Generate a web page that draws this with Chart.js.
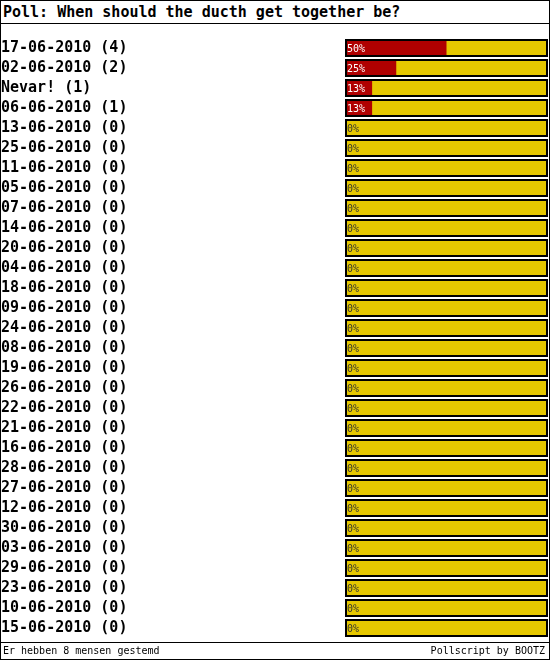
<!DOCTYPE html>
<html>
<head>
<meta charset="utf-8">
<script src="https://cdn.jsdelivr.net/npm/chart.js@4"></script>
<style>
  body { margin: 0; background: #fff; }
  #kader { position: relative; width: 550px; height: 660px; box-sizing: border-box; border: 1px solid #000; font-family: "DejaVu Sans Mono", monospace; }
  #titel { position: absolute; left: 2px; top: 2px; font-size: 15px; font-weight: bold; line-height: 18px; }
  #lijnBoven { position: absolute; left: 0; right: 0; top: 22px; border-top: 1px solid #000; }
  #grafiekVak { position: absolute; left: 0; top: 28px; width: 548px; height: 618px; }
  #lijnOnder { position: absolute; left: 0; right: 0; top: 641px; border-top: 1px solid #000; }
  .voet { position: absolute; top: 643px; font-size: 10px; line-height: 13px; background: #fff; }
</style>
</head>
<body>
<div id="kader">
  <div id="titel">Poll: When should the ducth get together be?</div>
  <div id="lijnBoven"></div>
  <div id="grafiekVak"><canvas id="grafiekPoll"></canvas></div>
  <div id="lijnOnder"></div>
  <div class="voet" style="left:2px">Er hebben 8 mensen gestemd</div>
  <div class="voet" style="right:4px">Pollscript by BOOTZ</div>
</div>
<script>
const opties = ["17-06-2010", "02-06-2010", "Nevar!", "06-06-2010", "13-06-2010", "25-06-2010",
  "11-06-2010", "05-06-2010", "07-06-2010", "14-06-2010", "20-06-2010", "04-06-2010",
  "18-06-2010", "09-06-2010", "24-06-2010", "08-06-2010", "19-06-2010", "26-06-2010",
  "22-06-2010", "21-06-2010", "16-06-2010", "28-06-2010", "27-06-2010", "12-06-2010",
  "30-06-2010", "03-06-2010", "29-06-2010", "23-06-2010", "10-06-2010", "15-06-2010"];
const stemmen = [4, 2, 1, 1, 0, 0, 0, 0, 0, 0, 0, 0, 0, 0, 0, 0, 0, 0, 0, 0, 0, 0, 0, 0, 0, 0, 0, 0, 0, 0];
const procenten = [50, 25, 13, 13, 0, 0, 0, 0, 0, 0, 0, 0, 0, 0, 0, 0, 0, 0, 0, 0, 0, 0, 0, 0, 0, 0, 0, 0, 0, 0];
const totaal = opties.map(() => 100);

const labels = opties.map((o, i) => o + " (" + stemmen[i] + ")");

const balkExtra = {
  id: "balkExtra",
  afterDatasetsDraw(chart) {
    const ctx = chart.ctx;
    const achter = chart.getDatasetMeta(0).data;
    const voor = chart.getDatasetMeta(1).data;
    ctx.save();
    ctx.strokeStyle = "#000";
    ctx.lineWidth = 2;
    achter.forEach((el) => {
      const h = el.height;
      ctx.strokeRect(el.base, el.y - h / 2, el.x - el.base, h);
    });
    ctx.font = "10px 'DejaVu Sans Mono', monospace";
    ctx.textBaseline = "middle";
    voor.forEach((el, i) => {
      ctx.fillStyle = procenten[i] > 0 ? "#fff" : "#333";
      ctx.fillText(procenten[i] + "%", el.base + 1, el.y + 1);
    });
    ctx.restore();
  },
};

new Chart(document.getElementById("grafiekPoll"), {
  type: "bar",
  data: {
    labels: labels,
    datasets: [
      { data: totaal, backgroundColor: "#e6c800", order: 2, barPercentage: 0.8, categoryPercentage: 1 },
      { data: procenten, backgroundColor: "#b00000", order: 1, minBarLength: 1, barPercentage: 0.8, categoryPercentage: 1 },
    ],
  },
  options: {
    indexAxis: "y",
    responsive: true,
    maintainAspectRatio: false,
    animation: false,
    layout: { padding: { left: 0, right: 2, top: 0, bottom: 0 } },
    plugins: { legend: { display: false }, tooltip: { enabled: false } },
    scales: {
      x: { display: false, min: 0, max: 100 },
      y: {
        stacked: true,
        grid: { display: false },
        border: { display: false },
        ticks: {
          color: "#000",
          crossAlign: "far",
          padding: 0,
          autoSkip: false,
          font: { family: "'DejaVu Sans Mono', monospace", size: 15, weight: "bold" },
        },
        afterFit(scale) { scale.width = 345; },
      },
    },
  },
  plugins: [balkExtra],
});
</script>
</body>
</html>
